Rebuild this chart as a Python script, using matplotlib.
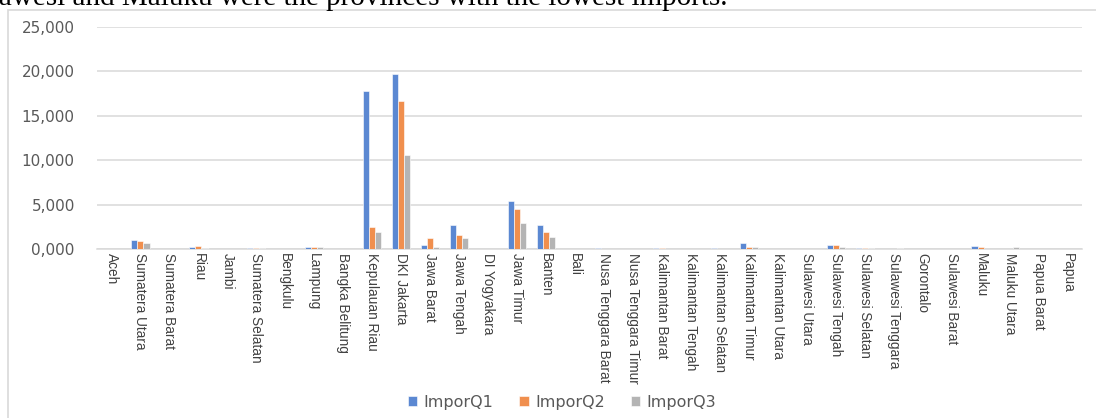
import matplotlib.pyplot as plt
import numpy as np
from matplotlib.patches import Rectangle

provinces = [
    "Aceh", "Sumatera Utara", "Sumatera Barat", "Riau", "Jambi", "Sumatera Selatan",
    "Bengkulu", "Lampung", "Bangka Belitung", "Kepulauan Riau", "DKI Jakarta",
    "Jawa Barat", "Jawa Tengah", "DI Yogyakara", "Jawa Timur", "Banten", "Bali",
    "Nusa Tenggara Barat", "Nusa Tenggara Timur", "Kalimantan Barat",
    "Kalimantan Tengah", "Kalimantan Selatan", "Kalimantan Timur", "Kalimantan Utara",
    "Sulawesi Utara", "Sulawesi Tengah", "Sulawesi Selatan", "Sulawesi Tenggara",
    "Gorontalo", "Sulawesi Barat", "Maluku", "Maluku Utara", "Papua Barat", "Papua",
]
impor_q1 = [0, 1050, 0, 260, 0, 100, 0, 280, 0, 17800, 19750, 450, 2700, 0, 5400,
            2700, 0, 80, 0, 60, 0, 150, 710, 0, 0, 450, 150, 0, 0, 0, 340, 0, 0, 0]
impor_q2 = [0, 900, 0, 380, 0, 100, 0, 280, 0, 2500, 16680, 1240, 1580, 0, 4500,
            1950, 0, 0, 0, 60, 0, 0, 260, 0, 0, 450, 100, 0, 0, 0, 260, 0, 0, 0]
impor_q3 = [0, 650, 0, 150, 0, 80, 0, 170, 0, 1950, 10620, 260, 1240, 0, 2900,
            1380, 0, 0, 0, 0, 0, 0, 260, 0, 0, 260, 100, 130, 0, 0, 0, 260, 0, 0]
series_names = ["ImporQ1", "ImporQ2", "ImporQ3"]
y_ticks = [0, 5000, 10000, 15000, 20000, 25000]

W, H = 1096, 418
fig = plt.figure(figsize=(W / 100, H / 100), dpi=100)
fig.patch.set_facecolor("white")

# chart frame (runs off the right and bottom edges of the crop)
frame = Rectangle((8 / W, -0.1), 1.2, 1 - 10 / H + 0.1, transform=fig.transFigure,
                  facecolor="white", edgecolor="#d9d9d9", linewidth=1.2, zorder=-5)
fig.add_artist(frame)

# cut-off sentence above the chart
fig.text(728 / W, 1 - 5 / H, "Sulawesi and Maluku were the provinces with the lowest imports.",
         ha="right", va="baseline", fontsize=21, family="Liberation Serif", color="black")

ax = fig.add_axes([97 / W, 1 - 249 / H, 985 / W, 222 / H])
ax.set_facecolor("none")

x = np.arange(len(provinces))
colors = ["#5b88d2", "#f08f4e", "#b4b4b4"]
width = 0.21
for k, (vals, name, c) in enumerate(zip([impor_q1, impor_q2, impor_q3], series_names, colors)):
    ax.bar(x + (k - 1) * width, vals, width, color=c, edgecolor="white", linewidth=0.4,
           label=name, zorder=3)

ax.set_xlim(-0.5, len(provinces) - 0.5)
ax.set_ylim(0, 25000)
ax.set_yticks(y_ticks)
ax.set_yticklabels([f"{v:,}" if v else "0,000" for v in y_ticks])
ax.set_xticks(x)
ax.set_xticklabels(provinces, rotation=-90, ha="center", va="top", fontsize=9.8,
                   family="Liberation Sans", color="#404040")
ax.tick_params(axis="y", length=0, pad=16, labelsize=11, labelcolor="#595959")
ax.tick_params(axis="x", length=0, pad=3)
ax.grid(axis="y", color="#d9d9d9", linewidth=1.1, zorder=0)
for side in ["top", "right", "left"]:
    ax.spines[side].set_visible(False)
ax.spines["bottom"].set_color("#d9d9d9")
ax.spines["bottom"].set_linewidth(1.1)

fig.legend(loc="center", bbox_to_anchor=(562 / W, 1 - 402 / H), ncol=3, frameon=False,
           fontsize=11.5, handlelength=0.6, handleheight=0.6, columnspacing=1.6,
           handletextpad=0.4, labelcolor="#595959")

fig.savefig("out.png", dpi=100)
